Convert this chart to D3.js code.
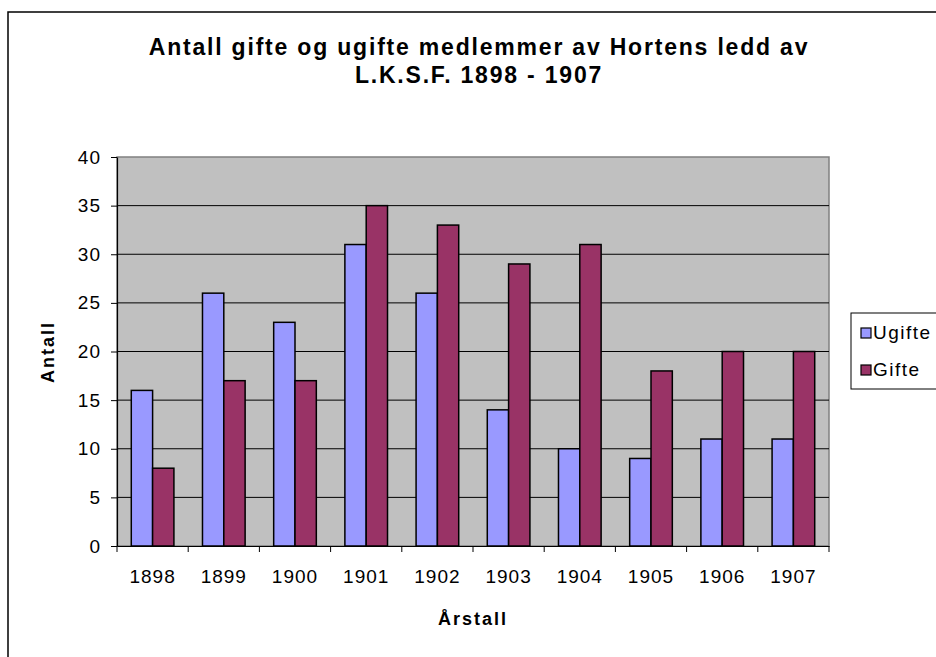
<!DOCTYPE html>
<html>
<head>
<meta charset="utf-8">
<script src="https://cdn.jsdelivr.net/npm/d3@7"></script>
<style>
  body { margin: 0; background: #fff; }
  svg text { font-family: "Liberation Sans", Arial, sans-serif; fill: #000; }
</style>
</head>
<body>
<svg id="chart" width="936" height="657"></svg>
<script>
// data
var years = ['1898', '1899', '1900', '1901', '1902', '1903', '1904', '1905', '1906', '1907']
var ugifte = [16, 26, 23, 31, 26, 14, 10, 9, 11, 11]
var gifte = [8, 17, 17, 35, 33, 29, 31, 18, 20, 20]
var seriesNames = ['Ugifte', 'Gifte']
var yTicks = [0, 5, 10, 15, 20, 25, 30, 35, 40]
var titleLines = ['Antall gifte og ugifte medlemmer av Hortens ledd av', 'L.K.S.F. 1898 - 1907']

var colors = { Ugifte: '#9999ff', Gifte: '#993366' }
var plot = { left: 117, top: 157, right: 829, bottom: 546 }

var svg = d3.select('#chart')

// outer chart frame (runs off the right and bottom edge)
svg.append('rect')
  .attr('x', 8).attr('y', 12)
  .attr('width', 960).attr('height', 700)
  .attr('fill', '#fff')
  .attr('stroke', '#000')
  .attr('stroke-width', 1.5)

var x0 = d3.scaleBand().domain(years).range([plot.left, plot.right])
var x1 = d3.scaleBand().domain(seriesNames).range([0, x0.bandwidth()]).paddingOuter(0.67)
var y = d3.scaleLinear().domain([0, 40]).range([plot.bottom, plot.top])

// plot area
svg.append('rect')
  .attr('x', plot.left).attr('y', plot.top)
  .attr('width', plot.right - plot.left).attr('height', plot.bottom - plot.top)
  .attr('fill', '#c0c0c0')
  .attr('stroke', '#808080')
  .attr('stroke-width', 1.5)

// gridlines
svg.append('g').selectAll('line')
  .data(yTicks.filter(function(d){ return d > 0 && d < 40 }))
  .enter().append('line')
  .attr('x1', plot.left).attr('x2', plot.right)
  .attr('y1', function(d){ return y(d) }).attr('y2', function(d){ return y(d) })
  .attr('stroke', '#000').attr('stroke-width', 1)

// bars
var rows = years.map(function(yr, i){
  return { year: yr, Ugifte: ugifte[i], Gifte: gifte[i] }
})
var groups = svg.append('g').selectAll('g')
  .data(rows).enter().append('g')
  .attr('transform', function(d){ return 'translate(' + x0(d.year) + ',0)' })

groups.selectAll('rect')
  .data(function(d){ return seriesNames.map(function(k){ return { key: k, value: d[k] } }) })
  .enter().append('rect')
  .attr('x', function(d){ return x1(d.key) })
  .attr('y', function(d){ return y(d.value) })
  .attr('width', x1.bandwidth())
  .attr('height', function(d){ return plot.bottom - y(d.value) })
  .attr('fill', function(d){ return colors[d.key] })
  .attr('stroke', '#000')
  .attr('stroke-width', 1.5)

// axes
var yAxis = svg.append('g')
  .attr('transform', 'translate(' + plot.left + ',0)')
  .call(d3.axisLeft(y).tickValues(yTicks).tickSize(6).tickPadding(10).tickSizeOuter(0))
var xAxis = svg.append('g')
  .attr('transform', 'translate(0,' + plot.bottom + ')')
  .call(d3.axisBottom(x0).tickSize(0).tickPadding(24).tickSizeOuter(0))

// x ticks sit on category borders, not centres
svg.append('g').selectAll('line')
  .data(years.concat(['end']))
  .enter().append('line')
  .attr('x1', function(d){ return d === 'end' ? plot.right : x0(d) })
  .attr('x2', function(d){ return d === 'end' ? plot.right : x0(d) })
  .attr('y1', plot.bottom).attr('y2', plot.bottom + 6)
  .attr('stroke', '#000')

svg.selectAll('.domain').attr('stroke', '#000').attr('stroke-width', 1.2)
svg.selectAll('.tick line').attr('stroke', '#000')
svg.selectAll('.tick text')
  .style('font-size', '19px')
  .style('letter-spacing', '1px')
  .attr('fill', '#000')

// title
svg.append('g').selectAll('text')
  .data(titleLines).enter().append('text')
  .attr('x', 479)
  .attr('y', function(d, i){ return 55 + i * 28 })
  .attr('text-anchor', 'middle')
  .style('font-size', '23px')
  .style('font-weight', 'bold')
  .style('letter-spacing', '1.8px')
  .text(function(d){ return d })

// axis titles
svg.append('text')
  .attr('x', 473).attr('y', 625)
  .attr('text-anchor', 'middle')
  .style('font-size', '18px').style('font-weight', 'bold').style('letter-spacing', '2px')
  .text('Årstall')

svg.append('text')
  .attr('transform', 'translate(54,352) rotate(-90)')
  .attr('text-anchor', 'middle')
  .style('font-size', '18px').style('font-weight', 'bold').style('letter-spacing', '2px')
  .text('Antall')

// legend
var legend = svg.append('g')
legend.append('rect')
  .attr('x', 851).attr('y', 313)
  .attr('width', 100).attr('height', 76)
  .attr('fill', '#fff').attr('stroke', '#000').attr('stroke-width', 1)

var items = legend.selectAll('.item')
  .data(seriesNames).enter().append('g')
  .attr('class', 'item')
  .attr('transform', function(d, i){ return 'translate(861,' + (328 + i * 37) + ')' })
items.append('rect')
  .attr('width', 10).attr('height', 10)
  .attr('fill', function(d){ return colors[d] })
  .attr('stroke', '#000').attr('stroke-width', 1.2)
items.append('text')
  .attr('x', 12).attr('y', 11)
  .style('font-size', '19px')
  .style('letter-spacing', '1.5px')
  .text(function(d){ return d })
</script>
</body>
</html>
